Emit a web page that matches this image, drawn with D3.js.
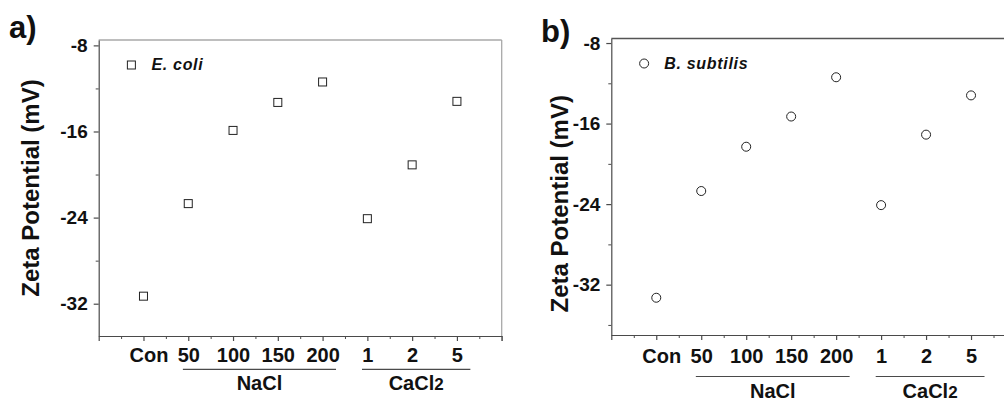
<!DOCTYPE html>
<html>
<head>
<meta charset="utf-8">
<script src="https://cdn.jsdelivr.net/npm/d3@7"></script>
<style>
  body { margin: 0; background: #fff; }
  svg { display: block; font-family: "Liberation Sans", Arial, sans-serif; }
  .axis text { font-weight: bold; fill: #111; }
</style>
</head>
<body>
<script>
// Categories along the x axis (salt concentrations)
const categories = ["Con", "50", "100", "150", "200", "1", "2", "5"];

// Zeta potential (mV)
const ecoliValues = [-31.3, -22.7, -15.9, -13.3, -11.4, -24.1, -19.1, -13.2];
const subtilisValues = [-33.3, -22.7, -18.3, -15.3, -11.4, -24.1, -17.1, -13.2];

// Y tick labels and minor ticks
const yTicks = [-32, -24, -16, -8];
const yMinorTicks = [-36, -28, -20, -12];

// Salt groups under the x axis
const saltGroups = [
    { name: "NaCl", sub: "", first: "50", last: "200" },
    { name: "CaCl", sub: "2", first: "1", last: "5" }
];

const svg = d3.select("body")
    .append("svg")
    .attr("width", 1004)
    .attr("height", 403);

const axisColor = "#4a4a4a";

function drawPanel(p) {
    const x = d3.scaleLinear().domain([0, categories.length + 1]).range([p.left, p.right]);
    const y = d3.scaleLinear().domain(p.yDomain).range([p.bottom, p.top]);
    const xIdx = c => categories.indexOf(c) + 1;

    const g = svg.append("g");

    // frame (top and right)
    g.append("line")
        .attr("x1", p.left).attr("x2", p.right)
        .attr("y1", p.top).attr("y2", p.top)
        .attr("stroke", p.frameColor).attr("stroke-width", 1.3);
    g.append("line")
        .attr("x1", p.right).attr("x2", p.right)
        .attr("y1", p.top).attr("y2", p.bottom + 5)
        .attr("stroke", p.frameColor).attr("stroke-width", 1.3);

    // minor x ticks
    const xMinor = d3.range(0.5, categories.length + 1, 1);
    g.append("g")
        .attr("class", "axis")
        .attr("transform", `translate(0,${p.bottom})`)
        .call(d3.axisBottom(x).tickValues(xMinor).tickSize(3).tickFormat(""))
        .call(s => s.select(".domain").remove())
        .call(s => s.selectAll("line").attr("stroke", axisColor));

    // major x ticks with labels
    const xMajor = d3.range(0, categories.length + 2);
    g.append("g")
        .attr("class", "axis")
        .attr("transform", `translate(0,${p.bottom})`)
        .call(d3.axisBottom(x).tickValues(xMajor).tickSize(5).tickSizeOuter(0)
            .tickPadding(p.xPad)
            .tickFormat(i => categories[i - 1] || ""))
        .call(s => s.selectAll("line, .domain").attr("stroke", axisColor).attr("stroke-width", 1.2))
        .call(s => s.selectAll("text").attr("font-size", "20px")
            .attr("dx", i => i === 1 ? 5 : 0));

    // minor y ticks
    g.append("g")
        .attr("class", "axis")
        .attr("transform", `translate(${p.left},0)`)
        .call(d3.axisLeft(y).tickValues(yMinorTicks.filter(v => v > p.yDomain[0])).tickSize(3).tickFormat(""))
        .call(s => s.select(".domain").remove())
        .call(s => s.selectAll("line").attr("stroke", axisColor));

    // major y ticks with labels (plain hyphen as in the figure)
    g.append("g")
        .attr("class", "axis")
        .attr("transform", `translate(${p.left},0)`)
        .call(d3.axisLeft(y).tickValues(yTicks).tickSize(5).tickSizeOuter(0).tickPadding(6)
            .tickFormat(d => String(d)))
        .call(s => s.selectAll("line, .domain").attr("stroke", axisColor).attr("stroke-width", 1.2))
        .call(s => s.selectAll("text").attr("font-size", "19px"));

    // y axis title
    g.append("text")
        .attr("transform", `translate(${p.titleX},${(p.top + p.bottom) / 2 + p.titleShift}) rotate(-90)`)
        .attr("text-anchor", "middle")
        .attr("font-size", "24px")
        .attr("font-weight", "bold")
        .attr("fill", "#111")
        .text("Zeta Potential (mV)");

    // panel label
    g.append("text")
        .attr("x", p.labelX).attr("y", p.labelY)
        .attr("font-size", "31px")
        .attr("font-weight", "bold")
        .attr("fill", "#111")
        .text(p.label);

    // salt group lines and names
    saltGroups.forEach(grp => {
        const x1 = x(xIdx(grp.first) - 0.12);
        const x2 = x(xIdx(grp.last) + 0.3);
        g.append("line")
            .attr("x1", x1).attr("x2", x2)
            .attr("y1", p.groupLineY).attr("y2", p.groupLineY)
            .attr("stroke", axisColor).attr("stroke-width", 1.2);
        const t = g.append("text")
            .attr("x", (x1 + x2) / 2)
            .attr("y", p.groupLineY + 21)
            .attr("text-anchor", "middle")
            .attr("font-size", "20px")
            .attr("font-weight", "bold")
            .attr("fill", "#111");
        t.append("tspan").text(grp.name);
        if (grp.sub) t.append("tspan").attr("font-size", "17px").text(grp.sub);
    });

    // points
    const pts = g.selectAll(".pt")
        .data(p.values)
        .enter();
    if (p.marker === "square") {
        pts.append("rect")
            .attr("x", (d, i) => x(i + 1) - 4)
            .attr("y", d => y(d) - 4)
            .attr("width", 8).attr("height", 8)
            .attr("fill", "none").attr("stroke", "#222").attr("stroke-width", 1);
    } else {
        pts.append("circle")
            .attr("cx", (d, i) => x(i + 1))
            .attr("cy", d => y(d))
            .attr("r", 4.5)
            .attr("fill", "none").attr("stroke", "#222").attr("stroke-width", 1);
    }

    // legend
    const lx = x(0.73), ly = p.top + 25;
    if (p.marker === "square") {
        g.append("rect")
            .attr("x", lx - 4).attr("y", ly - 4)
            .attr("width", 8).attr("height", 8)
            .attr("fill", "none").attr("stroke", "#222");
    } else {
        g.append("circle")
            .attr("cx", lx).attr("cy", ly).attr("r", 4.5)
            .attr("fill", "none").attr("stroke", "#222");
    }
    g.append("text")
        .attr("x", lx + 20).attr("y", ly + 5)
        .attr("font-size", "16px")
        .attr("font-weight", "bold")
        .attr("font-style", "italic")
        .attr("letter-spacing", "0.7px")
        .attr("fill", "#111")
        .text(p.legend);
}

drawPanel({
    left: 98.7, right: 501.7, top: 40, bottom: 336,
    yDomain: [-35, -7.5],
    values: ecoliValues, marker: "square", legend: "E. coli",
    frameColor: "#a8a8a8", xPad: 7,
    titleX: 39, titleShift: 0,
    label: "a)", labelX: 9, labelY: 38,
    groupLineY: 369.3
});

drawPanel({
    left: 611.3, right: 1016, top: 38.5, bottom: 335,
    yDomain: [-37, -7.55],
    values: subtilisValues, marker: "circle", legend: "B. subtilis",
    frameColor: "#555", xPad: 9,
    titleX: 568, titleShift: 17,
    label: "b)", labelX: 541, labelY: 42,
    groupLineY: 376.5
});
</script>
</body>
</html>
